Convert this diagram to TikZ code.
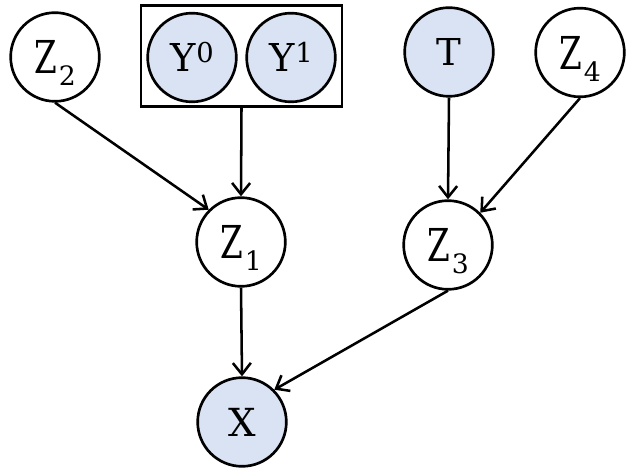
\documentclass[tikz,border=0pt]{standalone}
\usepackage{fontspec}
\setmainfont{DejaVu Serif}
\usetikzlibrary{arrows.meta}
\definecolor{nodefill}{HTML}{DAE3F3}
\newcommand{\zlab}[1]{{\fontsize{34}{34}\selectfont\scalebox{0.72}[1]{Z}\kern1.5pt\raisebox{-9pt}[0pt][0pt]{\fontsize{20}{20}\selectfont #1}}}
\newcommand{\ylab}[1]{{\fontsize{28.8}{28.8}\selectfont Y\kern0.5pt\raisebox{6.5pt}[0pt][0pt]{\fontsize{20.5}{20.5}\selectfont #1}}}
\tikzset{
  var/.style={circle, draw=black, line width=2pt, minimum size=66.5pt, inner sep=0pt, fill=white},
  obs/.style={var, fill=nodefill},
  edge/.style={line width=1.9pt, -{Straight Barb[length=8.5pt,width=13.5pt,line width=1.9pt]}},
}
\begin{document}
\begin{tikzpicture}[x=0.75pt,y=-0.75pt]
\useasboundingbox (0,0) rectangle (627,473);
\node (ybox) [draw, line width=2.2pt, minimum width=150.75pt, minimum height=75.75pt, inner sep=0pt] at (241.5,56) {};
\node (z2) [var] at (55,57) {\zlab{2}};
\node (y0) [obs] at (192,57.5) {\ylab{0}};
\node (y1) [obs] at (291,57.5) {\ylab{1}};
\node (t) [obs] at (449,52) {{\fontsize{27.8}{27.8}\selectfont T}};
\node (z4) [var] at (580,52.5) {\zlab{4}};
\node (z1) [var] at (241,242) {\zlab{1}};
\node (z3) [var] at (448,245) {\zlab{3}};
\node (x) [obs] at (242,422) {{\fontsize{29}{29}\selectfont X}};
\draw[edge] (z2.south) -- (z1.north west);
\draw[edge] (ybox.south) -- (z1.north);
\draw[edge] (t.south) -- (z3.north);
\draw[edge] (z4.south) -- (z3.north east);
\draw[edge] (z1.south) -- (x.north);
\draw[edge] (z3.south) -- (x.north east);
\end{tikzpicture}
\end{document}
